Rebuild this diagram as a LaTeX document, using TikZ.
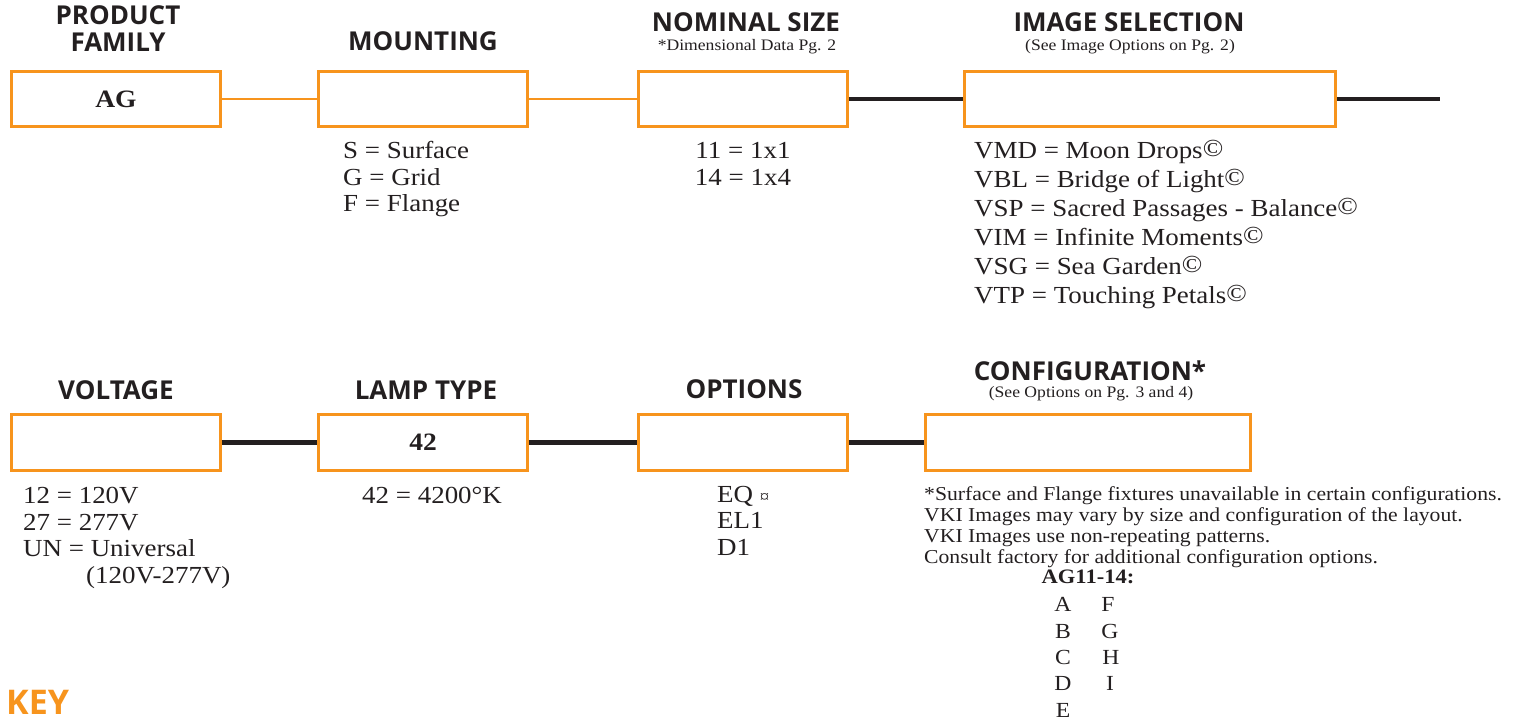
\documentclass[tikz,border=0pt]{standalone}
\usepackage{fontspec}
\setmainfont{Liberation Serif}
\newfontfamily\bodyf[FakeStretch=1.1]{Liberation Serif}
\newfontfamily\headf{Open Sans}
\definecolor{brand}{HTML}{F7941D}
\definecolor{ink}{HTML}{231F20}
\newcommand{\copymark}{\raisebox{2pt}{©}}
\tikzset{
  optbox/.style={draw=brand, line width=2.8pt, fill=white, inner sep=0pt,
    font=\bodyf\bfseries\fontsize{25}{30}\selectfont, text=ink},
  topbox/.style={optbox, minimum height=55.2pt},
  botbox/.style={optbox, minimum height=56.2pt},
  title/.style={font=\headf\bfseries\fontsize{26}{30}\selectfont, text=ink, inner sep=0pt, anchor=base},
  subt/.style={font=\bodyf\fontsize{16}{19}\selectfont, text=ink, inner sep=0pt, anchor=base},
  body/.style={font=\bodyf\fontsize{24.5}{29}\selectfont, text=ink, inner sep=0pt, anchor=base west},
  bodyc/.style={body, anchor=base},
  note/.style={font=\bodyf\fontsize{19.7}{21}\selectfont, text=ink, inner sep=0pt, anchor=base west},
  grid/.style={font=\bodyf\fontsize{21.5}{24}\selectfont, text=ink, inner sep=0pt, anchor=base},
  thinlink/.style={draw=brand, line width=2pt},
  thicklink/.style={draw=ink, line width=4.5pt},
}
\begin{document}
\begin{tikzpicture}[x=1pt,y=-1pt]
\useasboundingbox (0,0) rectangle (1513,721);

% ---------- top row boxes ----------
\node[topbox, minimum width=209pt] (b1) at (116,99) {AG};
\node[topbox, minimum width=209pt] (b2) at (423,99) {};
\node[topbox, minimum width=209pt] (b3) at (743,99) {};
\node[topbox, minimum width=371pt] (b4) at (1150,99) {};
\coordinate (endtop) at (1440,99);

\draw[thinlink] (b1.east) -- (b2.west);
\draw[thinlink] (b2.east) -- (b3.west);
\draw[thicklink] (b3.east) -- (b4.west);
\draw[thicklink] (b4.east) -- (endtop);

% ---------- bottom row boxes ----------
\node[botbox, minimum width=209pt] (b5) at (116,442.5) {};
\node[botbox, minimum width=209pt] (b6) at (423,442.5) {42};
\node[botbox, minimum width=209pt] (b7) at (743,442.5) {};
\node[botbox, minimum width=325pt] (b8) at (1088,442.5) {};

\draw[thicklink] (b5.east) -- (b6.west);
\draw[thicklink] (b6.east) -- (b7.west);
\draw[thicklink] (b7.east) -- (b8.west);

% ---------- titles ----------
\node[title] (t1a) at (118,24) {PRODUCT};
\node[title] (t1b) at (118,51) {FAMILY};
\node[title] (t2) at (423,50) {MOUNTING};
\node[title] (t3) at (746,31) {NOMINAL SIZE};
\node[subt] (s3) at (747,50) {*Dimensional Data Pg. 2};
\node[title] (t4) at (1129,31) {IMAGE SELECTION};
\node[subt] (s4) at (1130,50) {(See Image Options on Pg. 2)};
\node[title] (t5) at (116,399) {VOLTAGE};
\node[title] (t6) at (426,399) {LAMP TYPE};
\node[title] (t7) at (744,398) {OPTIONS};
\node[title] (t8) at (1090,380) {CONFIGURATION*};
\node[subt] (s8) at (1091,397) {(See Options on Pg. 3 and 4)};

% ---------- mounting ----------
\node[body] (m1) at (343,158) {S = Surface};
\node[body] (m2) at (343,185) {G = Grid};
\node[body] (m3) at (343,211.5) {F = Flange};

% ---------- nominal size ----------
\node[bodyc] (n1) at (743,158) {11 = 1x1};
\node[bodyc] (n2) at (743,185) {14 = 1x4};

% ---------- image selection ----------
\node[body] (i1) at (974,158) {VMD = Moon Drops\copymark};
\node[body] (i2) at (974,187) {VBL = Bridge of Light\copymark};
\node[body] (i3) at (974,216) {VSP = Sacred Passages - Balance\copymark};
\node[body] (i4) at (974,245) {VIM = Infinite Moments\copymark};
\node[body] (i5) at (974,274) {VSG = Sea Garden\copymark};
\node[body] (i6) at (974,303) {VTP = Touching Petals\copymark};

% ---------- voltage ----------
\node[body] (v1) at (23,503) {12 = 120V};
\node[body] (v2) at (23,530) {27 = 277V};
\node[body] (v3) at (23,556.5) {UN = Universal};
\node[body] (v4) at (86,583) {(120V-277V)};

% ---------- lamp type ----------
\node[body] (l1) at (362,503) {42 = 4200°K};

% ---------- options ----------
\node[body] (o1) at (717,502) {EQ {\fontsize{17}{17}\selectfont ¤}};
\node[body] (o2) at (717,528) {EL1};
\node[body] (o3) at (717,555) {D1};

% ---------- configuration notes ----------
\node[note] (c1) at (924,500) {*Surface and Flange fixtures unavailable in certain configurations.};
\node[note] (c2) at (924,521) {VKI Images may vary by size and configuration of the layout.};
\node[note] (c3) at (924,542) {VKI Images use non-repeating patterns.};
\node[note] (c4) at (924,563) {Consult factory for additional configuration options.};
\node[note, anchor=base, font=\bodyf\bfseries\fontsize{20.5}{22}\selectfont] (ag) at (1088,583) {AG11-14:};

\node[grid] (gA) at (1063,611) {A};
\node[grid] (gB) at (1063,638) {B};
\node[grid] (gC) at (1063,664) {C};
\node[grid] (gD) at (1063,690) {D};
\node[grid] (gE) at (1063,717) {E};
\node[grid] (gF) at (1108,611) {F};
\node[grid] (gG) at (1110,638) {G};
\node[grid] (gH) at (1111,664) {H};
\node[grid] (gI) at (1110,690) {I};

% ---------- key ----------
\node[font=\headf\bfseries\fontsize{34}{40}\selectfont, text=brand, inner sep=0pt, anchor=base west] (key) at (6,714) {KEY};
\end{tikzpicture}
\end{document}
